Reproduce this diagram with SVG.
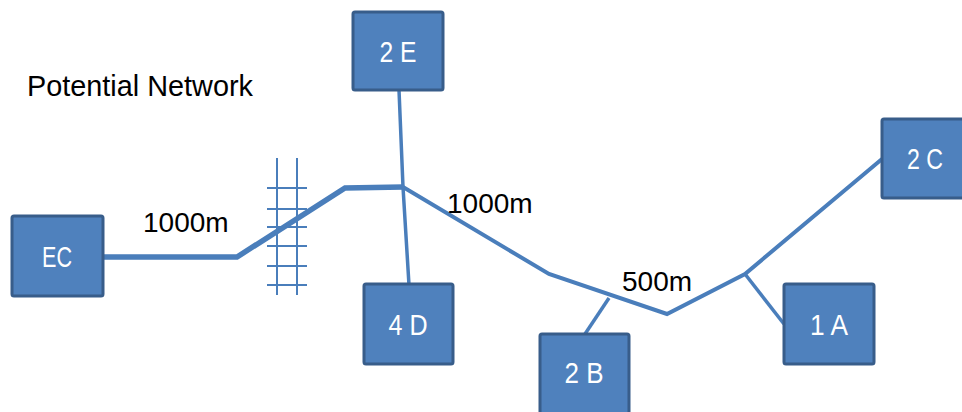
<svg xmlns="http://www.w3.org/2000/svg" width="962" height="412" viewBox="0 0 962 412">
<style>
.box{fill:#4f81bd;stroke:#385d8a;stroke-width:3}
.lbl{fill:#fff;font-family:"Liberation Sans",Arial,sans-serif;font-size:29px;text-anchor:middle}
.dist{fill:#000;font-family:"Liberation Sans",Arial,sans-serif;font-size:28px}
.ln{stroke:#4a7ebb;fill:none;stroke-linejoin:miter}
</style>
<rect width="962" height="412" fill="#fff"/>
<text x="27" y="96" font-family="Liberation Sans,Arial,sans-serif" font-size="30" fill="#000" textLength="226" lengthAdjust="spacingAndGlyphs">Potential Network</text>
<g id="connectors">
<polyline class="ln" stroke-width="5.5" points="103,257 237,257 345,188 403,187"/>
<polyline class="ln" stroke-width="4" points="403,187 549,274 667,314 745,274 882,159"/>
<polyline class="ln" stroke-width="3.5" points="399,90 403,187 409,285"/>
<line class="ln" stroke-width="3.5" x1="609" y1="298" x2="585" y2="334"/>
<line class="ln" stroke-width="3.5" x1="745" y1="274" x2="784" y2="324"/>
<g id="grid" class="ln" stroke-width="2">
<line x1="277" y1="158" x2="277" y2="295"/>
<line x1="297" y1="158" x2="297" y2="295"/>
<line x1="267" y1="188" x2="307" y2="188"/>
<line x1="267" y1="209" x2="307" y2="209"/>
<line x1="267" y1="227" x2="307" y2="227"/>
<line x1="267" y1="246" x2="307" y2="246"/>
<line x1="267" y1="266" x2="307" y2="266"/>
<line x1="267" y1="285" x2="307" y2="285"/>
</g>
</g>
<text class="dist" x="143" y="232">1000m</text>
<text class="dist" x="447" y="213">1000m</text>
<text class="dist" x="622" y="291">500m</text>
<g id="EC"><rect class="box" x="12" y="216" width="91" height="80" rx="2"/><text class="lbl" x="57" y="267" textLength="30" lengthAdjust="spacingAndGlyphs">EC</text></g>
<g id="n2E"><rect class="box" x="353" y="12" width="90" height="78" rx="2"/><text class="lbl" x="398" y="62" textLength="37" lengthAdjust="spacingAndGlyphs">2 E</text></g>
<g id="n4D"><rect class="box" x="364" y="284" width="89" height="80" rx="2"/><text class="lbl" x="408" y="335" textLength="39" lengthAdjust="spacingAndGlyphs">4 D</text></g>
<g id="n2B"><rect class="box" x="540" y="334" width="89" height="80" rx="2"/><text class="lbl" x="584" y="383" textLength="39" lengthAdjust="spacingAndGlyphs">2 B</text></g>
<g id="n1A"><rect class="box" x="784" y="284" width="90" height="80" rx="2"/><text class="lbl" x="829" y="335" textLength="38" lengthAdjust="spacingAndGlyphs">1 A</text></g>
<g id="n2C"><rect class="box" x="882" y="119" width="84" height="79" rx="2"/><text class="lbl" x="925" y="169" textLength="36" lengthAdjust="spacingAndGlyphs">2 C</text></g>
</svg>
